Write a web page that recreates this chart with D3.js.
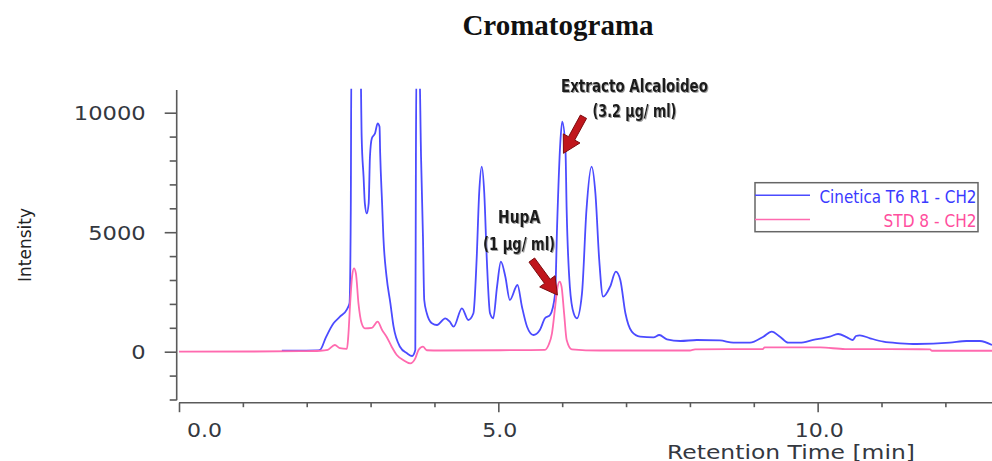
<!DOCTYPE html>
<html>
<head>
<meta charset="utf-8">
<script src="https://cdn.jsdelivr.net/npm/d3@7"></script>
<style>
  html, body { margin: 0; padding: 0; background: #fff; }
  svg { display: block; }
</style>
</head>
<body>
<svg id="chart" width="992" height="461"></svg>
<script>
// ---- data -------------------------------------------------------------
const chartTitle = "Cromatograma";
const seriesNames = ["Cinetica T6 R1 - CH2", "STD 8 - CH2"];
const seriesColors = ["#4b4bff", "#ff6aaf"];

// Sample extract trace (retention time in min, intensity)
const sampleTime = [1.61, 2.16, 2.21, 2.30, 2.42, 2.52, 2.63, 2.67, 2.69, 2.70, 2.84, 2.86, 2.89, 2.91,
  2.94, 2.97, 2.99, 3.02, 3.07, 3.11, 3.14, 3.15, 3.18, 3.20, 3.25, 3.31, 3.36, 3.46, 3.57, 3.65,
  3.70, 3.71, 3.72, 3.76, 3.79, 3.82, 3.84, 3.88, 3.96, 4.04, 4.17, 4.24, 4.30, 4.43, 4.53, 4.61,
  4.66, 4.70, 4.74, 4.78, 4.82, 4.87, 4.92, 4.98, 5.04, 5.11, 5.18, 5.30, 5.37, 5.45, 5.55, 5.65,
  5.73, 5.81, 5.89, 5.92, 5.97, 6.00, 6.05, 6.07, 6.12, 6.18, 6.23, 6.31, 6.38, 6.46, 6.52, 6.58,
  6.64, 6.75, 6.84, 6.91, 6.99, 7.09, 7.22, 7.43, 7.52, 7.64, 7.85, 8.11, 8.47, 8.68, 8.94, 9.15,
  9.28, 9.41, 9.54, 9.72, 9.93, 10.19, 10.32, 10.46, 10.55, 10.60, 10.66, 10.82, 11.03, 11.29,
  11.55, 12.07, 12.33, 12.54, 12.73];
const sampleIntensity = [40, 50, 80, 600, 1188, 1464, 1774, 2025, 6000, 12500, 12500, 8996, 7322, 6209,
  5790, 6209, 8159, 8929, 9138, 9556, 9414, 8301, 6209, 4812, 3138, 2025, 1046, 209, -67, -180,
  71, 8439, 12500, 12500, 8159, 4812, 2163, 1607, 1188, 1117, 1397, 1255, 1046, 1816, 1326, 1607,
  3837, 6628, 7741, 6628, 3837, 1607, 1397, 2720, 3766, 3138, 2163, 2791, 1883, 1046, 699, 908,
  1397, 1536, 2443, 5230, 8720, 9623, 8577, 5929, 2720, 1607, 1397, 2443, 5929, 7741, 6628, 3837,
  2301, 2720, 3347, 3000, 1607, 837, 628, 602, 699, 519, 448, 490, 470, 377, 377, 628,
  837, 628, 377, 377, 490, 628, 740, 600, 490, 657, 686, 561, 418, 351,
  322, 377, 448, 448, 280];

// Huperzine A standard trace
const standardTime = [0.00, 1.90, 2.21, 2.33, 2.44, 2.52, 2.63, 2.65, 2.68, 2.71, 2.74, 2.77, 2.81, 2.86,
  2.91, 3.02, 3.11, 3.18, 3.25, 3.33, 3.41, 3.51, 3.62, 3.70, 3.75, 3.82, 3.88, 4.09, 5.03, 5.73,
  5.79, 5.84, 5.89, 5.92, 5.96, 5.99, 6.03, 6.07, 6.15, 6.59, 8.00, 8.08, 9.14, 9.17, 10.04, 10.43,
  11.76, 11.79, 12.73];
const standardIntensity = [0, 20, 40, 80, 280, 150, 120, 628, 2025, 3138, 3488, 3279, 2025, 1188,
  979, 1000, 1255, 908, 628, 209, -138, -347, -485, -276, 71, 209, 60, 50, 60, 80,
  300, 770, 1883, 2582, 2929, 2720, 1607, 490, 100, 50, 50, 100, 110, 180, 180, 110,
  100, 40, 40];

const yMajorTicks = [0, 5000, 10000];
const yMinorTicks = [-2000, -1000, 1000, 2000, 3000, 4000, 6000, 7000, 8000, 9000];
const xMajorTicks = [0, 5, 10];
const xMinorTicks = [1, 2, 3, 4, 6, 7, 8, 9, 11, 12];
const xTitle = "Retention Time [min]";
const yTitle = "Intensity";

// Peak call-outs: the arrow tip sits on a point of the trace
const callouts = [
  { lines: ["Extracto Alcaloideo", "(3.2 \u00b5g/ ml)"], t: 6.02, v: 8300 },
  { lines: ["HupA", "(1 \u00b5g/ ml)"], t: 5.925, v: 2370 }
];

// ---- layout -----------------------------------------------------------
const svg = d3.select("#chart");
const plot = { left: 179, right: 992, top: 88.8, bottom: 399.5 };
const yAxisX = 176.7, xAxisY = 402.7;

const x = d3.scaleLinear().domain([0, 12.73]).range([plot.left, plot.right]);
const y = d3.scaleLinear().domain([-2000, 11000]).range([plot.bottom, plot.top]);

const defs = svg.append("defs");
defs.append("clipPath").attr("id", "plotClip")
  .append("rect")
  .attr("x", plot.left).attr("y", plot.top)
  .attr("width", plot.right - plot.left).attr("height", xAxisY - plot.top);
const shadow = defs.append("filter").attr("id", "txtShadow")
  .attr("x", "-10%").attr("y", "-30%").attr("width", "120%").attr("height", "160%");
shadow.append("feDropShadow").attr("dx", 1).attr("dy", 1).attr("stdDeviation", 0.7)
  .attr("flood-color", "#777").attr("flood-opacity", 0.7);

// title
svg.append("text")
  .attr("x", 558).attr("y", 35)
  .attr("text-anchor", "middle")
  .attr("font-family", "'Liberation Serif', 'Times New Roman', serif")
  .attr("font-weight", "bold").attr("font-size", 29)
  .attr("fill", "#111")
  .text(chartTitle);

// ---- axes -------------------------------------------------------------
const axisColor = "#5a5a5a";
const labelFont = "'DejaVu Sans', Verdana, sans-serif";
const labelColor = "#34383f";

const yAxisG = svg.append("g").attr("transform", `translate(${yAxisX},0)`);
yAxisG.append("g").call(d3.axisLeft(y).tickValues(yMinorTicks).tickSize(7).tickFormat(""));
yAxisG.append("g").call(d3.axisLeft(y).tickValues(yMajorTicks).tickSize(12).tickFormat(d3.format("d")));
yAxisG.selectAll(".domain").remove();
yAxisG.append("line").attr("y1", 90).attr("y2", plot.bottom + 0.8);
yAxisG.selectAll("line").attr("stroke", axisColor).attr("stroke-width", 1.6);
yAxisG.selectAll("text")
  .attr("x", 0).attr("dy", "0.36em")
  .attr("transform", "translate(-31,0) scale(1.16,1)")
  .attr("font-family", labelFont).attr("font-size", 19.5)
  .attr("fill", labelColor).attr("text-anchor", "end");

const xAxisG = svg.append("g").attr("transform", `translate(0,${xAxisY})`);
xAxisG.append("g").call(d3.axisBottom(x).tickValues(xMinorTicks).tickSize(4.5).tickFormat(""));
xAxisG.append("g").call(d3.axisBottom(x).tickValues(xMajorTicks).tickSize(9.5).tickFormat(d3.format(".1f")));
xAxisG.selectAll(".domain").remove();
xAxisG.append("line").attr("x1", plot.left).attr("x2", plot.right);
xAxisG.selectAll("line").attr("stroke", axisColor).attr("stroke-width", 1.6);
xAxisG.selectAll("text")
  .attr("y", 0).attr("dy", null)
  .attr("transform", d => `translate(${d === 0 ? 25 : 1},33.8) scale(1.16,1)`)
  .attr("font-family", labelFont).attr("font-size", 19)
  .attr("fill", labelColor).attr("text-anchor", "middle");

svg.append("text")
  .attr("x", 791).attr("y", 458.5)
  .attr("text-anchor", "middle")
  .attr("font-family", labelFont).attr("font-size", 19)
  .attr("textLength", 248).attr("lengthAdjust", "spacingAndGlyphs")
  .attr("fill", labelColor)
  .text(xTitle);

svg.append("text")
  .attr("transform", "translate(31,245) rotate(-90)")
  .attr("text-anchor", "middle")
  .attr("font-family", "'DejaVu Sans Condensed', 'Liberation Sans Narrow', sans-serif")
  .attr("font-size", 18)
  .attr("textLength", 74).attr("lengthAdjust", "spacingAndGlyphs")
  .attr("fill", "#222")
  .text(yTitle);

// ---- traces -----------------------------------------------------------
const line = d3.line()
  .x(d => x(d[0])).y(d => y(d[1]))
  .curve(d3.curveMonotoneX);

const traces = [
  d3.zip(sampleTime, sampleIntensity),
  d3.zip(standardTime, standardIntensity)
];
const traceG = svg.append("g").attr("clip-path", "url(#plotClip)");
traceG.selectAll("path.trace")
  .data(traces)
  .join("path")
  .attr("class", "trace")
  .attr("d", line)
  .attr("fill", "none")
  .attr("stroke", (d, i) => seriesColors[i])
  .attr("stroke-width", 1.8)
  .attr("stroke-linejoin", "round");

// ---- legend -----------------------------------------------------------
const legend = svg.append("g").attr("transform", "translate(755,182.7)");
legend.append("rect")
  .attr("width", 223).attr("height", 49)
  .attr("fill", "#fff").attr("stroke", "#666").attr("stroke-width", 1.5);
const legendRows = legend.selectAll("g.row")
  .data(seriesNames)
  .join("g").attr("class", "row")
  .attr("transform", (d, i) => `translate(0,${12.5 + i * 24.3})`);
legendRows.append("line")
  .attr("x1", 0).attr("x2", 55)
  .attr("stroke", (d, i) => seriesColors[i]).attr("stroke-width", 1.6);
legendRows.append("text")
  .attr("x", 221.5).attr("y", 7.5)
  .attr("text-anchor", "end")
  .attr("font-family", "'DejaVu Sans Condensed', 'Liberation Sans Narrow', sans-serif")
  .attr("font-size", 18)
  .attr("textLength", (d, i) => i === 0 ? 157 : 93)
  .attr("lengthAdjust", "spacingAndGlyphs")
  .attr("fill", (d, i) => i === 0 ? "#3a3aff" : "#ff4f9e")
  .text(d => d);

// ---- call-outs --------------------------------------------------------
function arrowPath(tail, tip, shaftW, headW, headLen) {
  const dx = tip[0] - tail[0], dy = tip[1] - tail[1];
  const len = Math.hypot(dx, dy);
  const ux = dx / len, uy = dy / len, px = -uy, py = ux;
  const bx = tip[0] - ux * headLen, by = tip[1] - uy * headLen;
  const pt = (cx, cy, w) => [cx + px * w, cy + py * w];
  return d3.line()([
    pt(tail[0], tail[1], shaftW / 2), pt(bx, by, shaftW / 2), pt(bx, by, headW / 2),
    tip,
    pt(bx, by, -headW / 2), pt(bx, by, -shaftW / 2), pt(tail[0], tail[1], -shaftW / 2)
  ]) + "Z";
}

const calloutStyle = [
  { tail: [20, -36.6], textDx: 71, base: [-61.6, -36.5], widths: [147, 84] },
  { tail: [-25.6, -35], textDx: -38.3, base: [-71.7, -45], widths: [42, 72] }
];

callouts.forEach((c, i) => {
  const s = calloutStyle[i];
  const tip = [x(c.t), y(c.v)];
  const tail = [tip[0] + s.tail[0], tip[1] + s.tail[1]];
  const g = svg.append("g");
  g.append("path")
    .attr("d", arrowPath(tail, tip, 7, 19, 17))
    .attr("fill", "#c0161c").attr("stroke", "#7d0b0f").attr("stroke-width", 1)
    .attr("stroke-linejoin", "round");
  g.selectAll("text")
    .data(c.lines)
    .join("text")
    .attr("x", tip[0] + s.textDx)
    .attr("y", (d, k) => tip[1] + s.base[k])
    .attr("text-anchor", "middle")
    .attr("font-family", "'Liberation Sans Narrow', 'DejaVu Sans Condensed', sans-serif")
    .attr("font-weight", "bold").attr("font-size", 18)
    .attr("textLength", (d, k) => s.widths[k]).attr("lengthAdjust", "spacingAndGlyphs")
    .attr("fill", "#1a1a1a")
    .attr("filter", "url(#txtShadow)")
    .text(d => d);
});
</script>
</body>
</html>
